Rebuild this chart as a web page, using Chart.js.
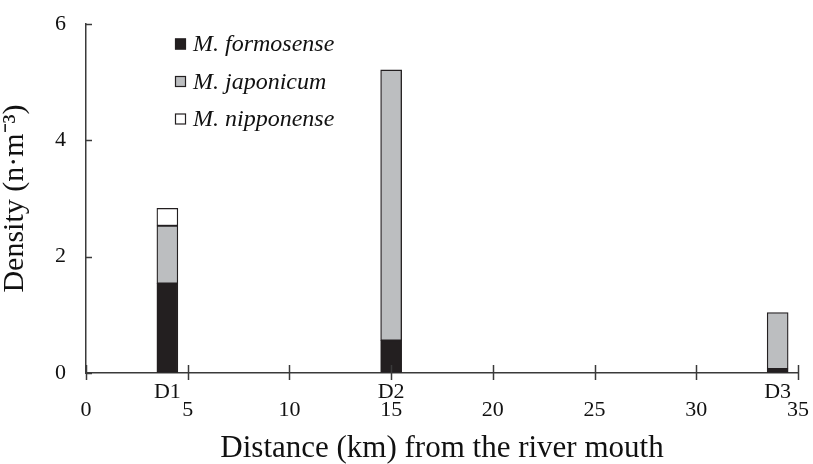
<!DOCTYPE html>
<html>
<head>
<meta charset="utf-8">
<script src="https://cdn.jsdelivr.net/npm/chart.js@4/dist/chart.umd.min.js"></script>
<style>
  html, body { margin: 0; padding: 0; background: #ffffff; }
  #wrap { width: 813px; height: 464px; }
</style>
</head>
<body>
<div id="wrap"><canvas id="chart"></canvas></div>
<script>
// Sampling sites and their distance from the river mouth
const sites = ['D1', 'D2', 'D3'];
const distanceKm = [4, 15, 34];

// Density (n·m-3) of each species at every site
const formosense = [1.54, 0.56, 0.07];
const japonicum = [0.99, 4.65, 0.97];
const nipponense = [0.30, null, null];

const speciesNames = ['M. formosense', 'M. japonicum', 'M. nipponense'];
const speciesColors = ['#231f20', '#bcbec0', '#ffffff'];

const xTickStep = 5;
const yTickStep = 2;

const INK = '#231f20';
const AXIS = '#3a3a3a';
const SERIF = '"Liberation Serif", "Times New Roman", serif';

function toPoints(values) {
  return values.map((v, i) => ({ x: distanceKm[i], y: v }));
}

// Tick marks (inward on y, crossing on x), site names and the legend box
const decorations = {
  id: 'decorations',
  afterDraw(chart) {
    const { ctx, chartArea, scales } = chart;
    const xs = scales.x, ys = scales.y;
    ctx.save();
    ctx.strokeStyle = AXIS;
    ctx.lineWidth = 1.5;

    // y ticks point into the plot
    ys.ticks.forEach(t => {
      const py = Math.round(ys.getPixelForValue(t.value)) + 0.5;
      ctx.beginPath();
      ctx.moveTo(chartArea.left, py);
      ctx.lineTo(chartArea.left + 6, py);
      ctx.stroke();
    });

    // x ticks cross the axis line
    xs.ticks.forEach(t => {
      const px = Math.round(xs.getPixelForValue(t.value)) + 0.5;
      ctx.beginPath();
      ctx.moveTo(px, chartArea.bottom - 8);
      ctx.lineTo(px, chartArea.bottom + 7);
      ctx.stroke();
    });

    // site names under each bar
    ctx.fillStyle = '#111';
    ctx.font = '22px ' + SERIF;
    ctx.textAlign = 'center';
    ctx.textBaseline = 'alphabetic';
    sites.forEach((s, i) => {
      ctx.fillText(s, xs.getPixelForValue(distanceKm[i]), chartArea.bottom + 25);
    });

    // legend
    ctx.font = 'italic 24px ' + SERIF;
    ctx.textAlign = 'left';
    ctx.textBaseline = 'middle';
    chart.data.datasets.forEach((ds, i) => {
      const bx = chartArea.left + 89;
      const cy = chartArea.top + 20 + i * 37.5;
      ctx.fillStyle = ds.backgroundColor;
      ctx.fillRect(bx, cy - 5.5, 11, 11);
      ctx.lineWidth = 1.2;
      ctx.strokeStyle = INK;
      ctx.strokeRect(bx + 0.5, cy - 5, 10, 10);
      ctx.fillStyle = '#111';
      ctx.fillText(ds.label, bx + 18, cy + 1);
    });
    ctx.restore();
  }
};

const datasets = [formosense, japonicum, nipponense].map((vals, i) => ({
  label: speciesNames[i],
  data: toPoints(vals),
  backgroundColor: speciesColors[i],
  borderColor: INK,
  borderWidth: 1.3,
  borderSkipped: false,
  barThickness: 21
}));

new Chart(document.getElementById('chart'), {
  type: 'bar',
  data: { datasets },
  plugins: [decorations],
  options: {
    responsive: true,
    maintainAspectRatio: false,
    animation: false,
    layout: { padding: { top: 24, right: 15, bottom: 0, left: 0 } },
    plugins: {
      legend: { display: false },
      tooltip: { enabled: false }
    },
    scales: {
      x: {
        type: 'linear',
        stacked: true,
        offset: false,
        min: 0,
        max: 35,
        afterFit(scale) {
          scale.height = 91;
          scale.paddingLeft = 0;
          scale.paddingRight = 10;
        },
        ticks: {
          stepSize: xTickStep,
          color: '#111',
          padding: 24,
          maxRotation: 0,
          font: { family: SERIF, size: 22 }
        },
        grid: { display: true, offset: false, drawOnChartArea: false, drawTicks: false },
        border: { display: true, color: AXIS, width: 1.5 },
        title: {
          display: true,
          text: 'Distance (km) from the river mouth',
          color: '#111',
          font: { family: SERIF, size: 31, lineHeight: 1 },
          padding: { top: 0, bottom: 0 }
        }
      },
      y: {
        stacked: true,
        min: 0,
        max: 6,
        afterFit(scale) {
          scale.width = 86;
          scale.paddingTop = 10;
          scale.paddingBottom = 10;
        },
        ticks: {
          stepSize: yTickStep,
          color: '#111',
          padding: 20,
          font: { family: SERIF, size: 22 }
        },
        grid: { display: true, drawOnChartArea: false, drawTicks: false },
        border: { display: true, color: AXIS, width: 1.5 },
        title: {
          display: true,
          text: 'Density (n·m⁻³)',
          color: '#111',
          font: { family: SERIF, size: 30, lineHeight: 1 },
          padding: { top: 0, bottom: 0 }
        }
      }
    }
  }
});
</script>
</body>
</html>
